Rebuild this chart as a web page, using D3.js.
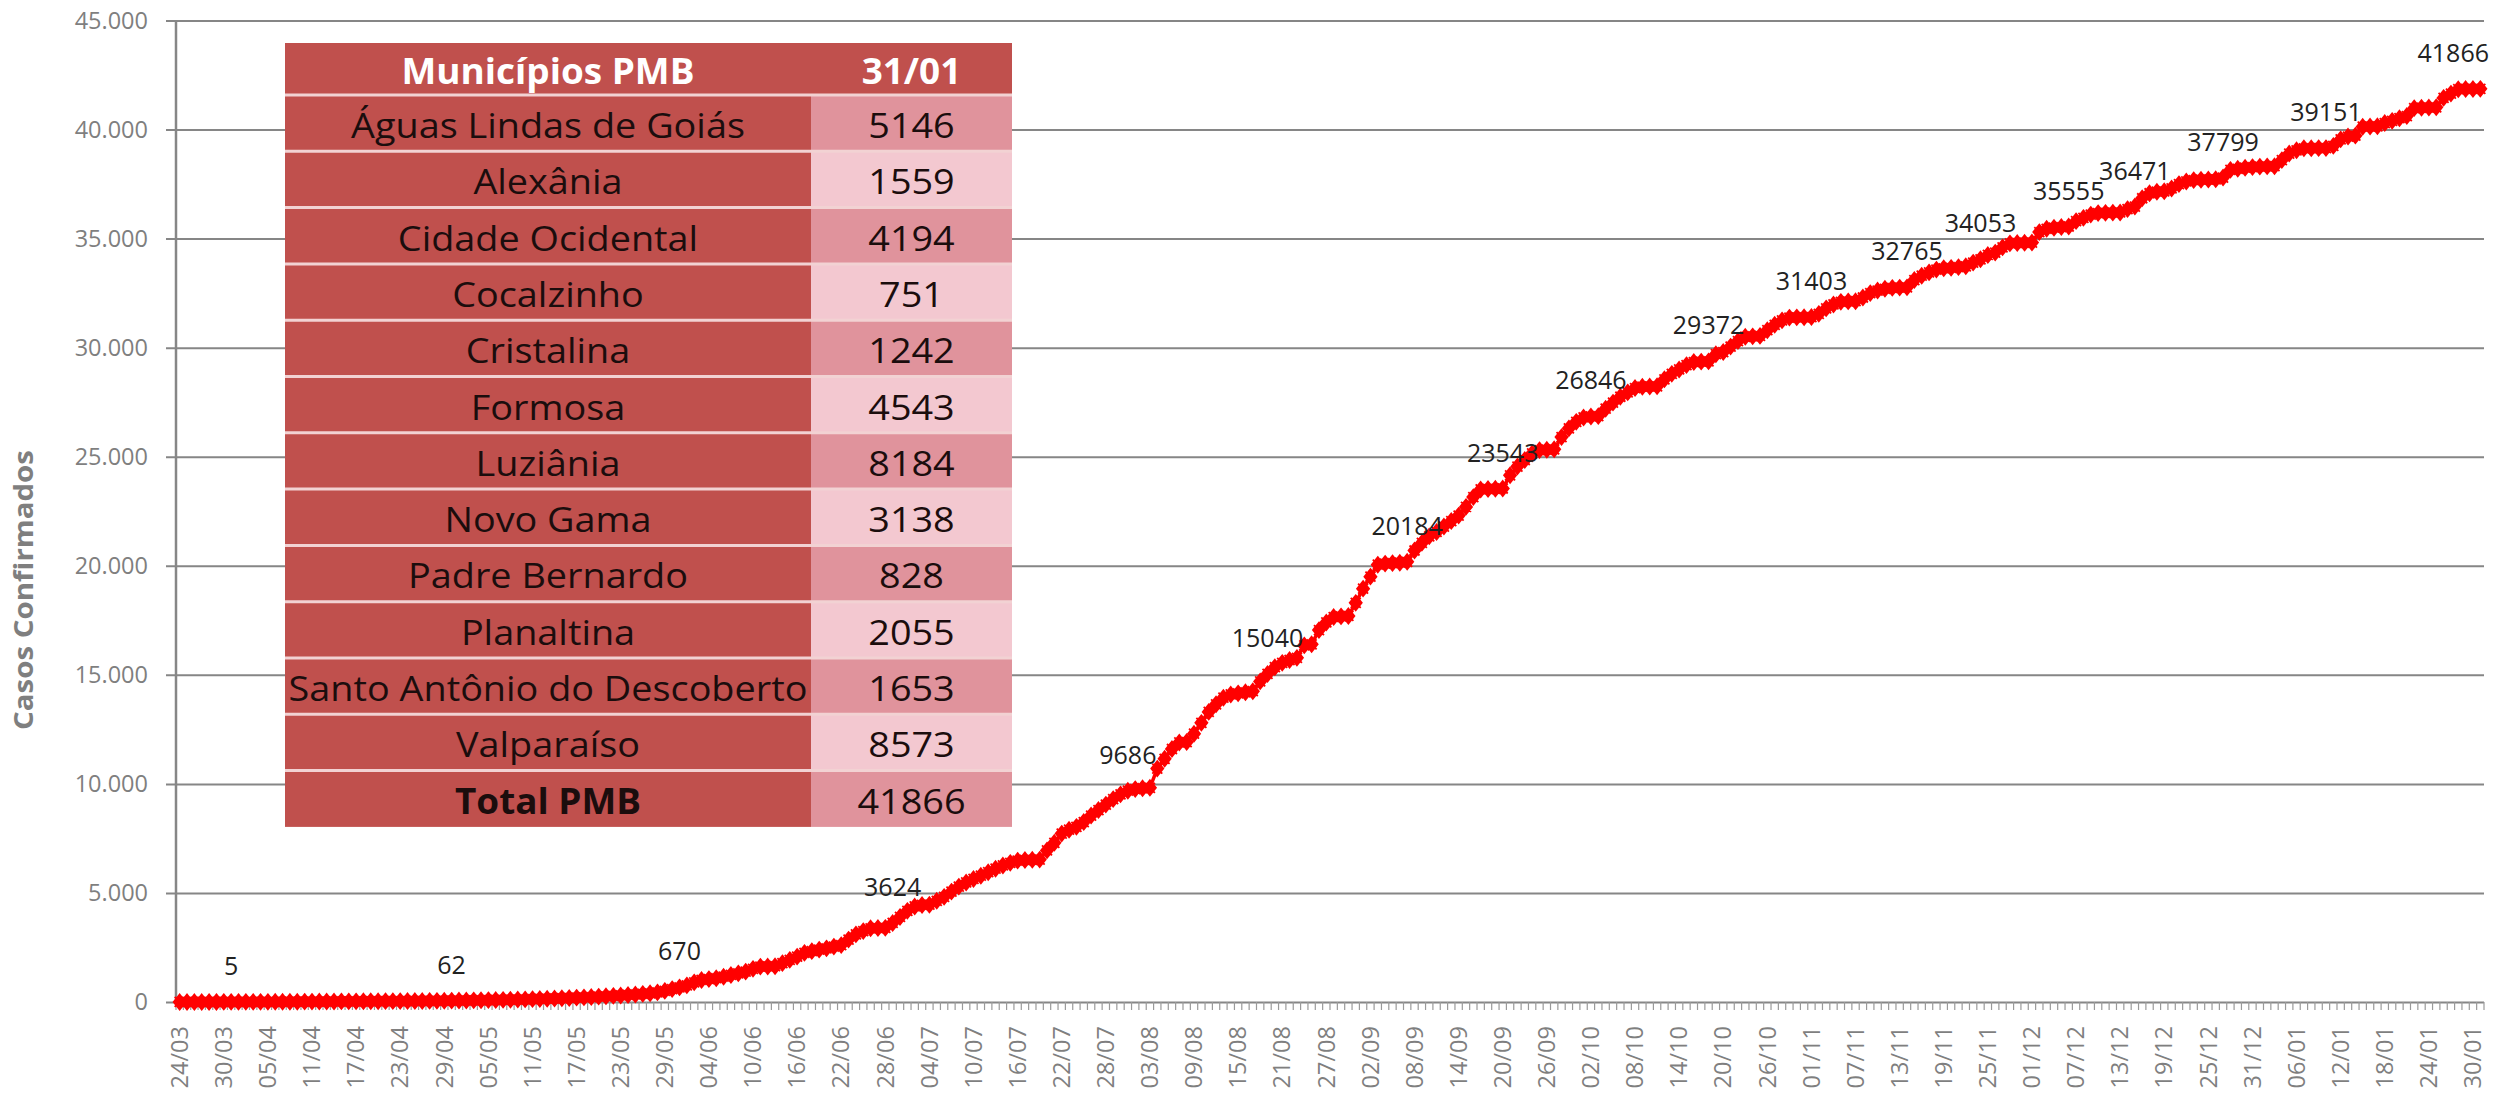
<!DOCTYPE html>
<html>
<head>
<meta charset="utf-8">
<script src="https://cdn.jsdelivr.net/npm/d3@7"></script>
<style>
  body { margin: 0; background: #fff; }
  text { font-family: 'Open Sans', sans-serif; }
</style>
</head>
<body>
<svg id="chart"></svg>
<script>
// daily cumulative confirmed cases, 24/03/2020 .. 31/01/2021 (314 days)
var casos = [
  1, 1, 2, 2, 3, 3, 4, 5, 5, 6,
  7, 8, 8, 9, 10, 12, 14, 16, 18, 20,
  22, 24, 26, 28, 30, 32, 34, 36, 38, 40,
  42, 44, 46, 48, 51, 54, 58, 62, 66, 70,
  75, 80, 86, 92, 98, 105, 112, 120, 130, 140,
  150, 160, 172, 185, 198, 212, 228, 245, 262, 280,
  300, 322, 345, 370, 400, 440, 510, 590, 670, 760,
  900, 1010, 1050, 1090, 1160, 1240, 1310, 1390, 1520, 1620,
  1630, 1640, 1780, 1930, 2080, 2250, 2330, 2400, 2460, 2540,
  2610, 2860, 3100, 3250, 3380, 3390, 3400, 3624, 3900, 4180,
  4380, 4450, 4460, 4640, 4820, 5060, 5290, 5480, 5640, 5790,
  5950, 6110, 6260, 6380, 6480, 6510, 6520, 6530, 6950, 7300,
  7720, 7900, 8030, 8250, 8550, 8800, 9050, 9300, 9520, 9686,
  9760, 9800, 9820, 10700, 11150, 11600, 11900, 11920, 12300, 12800,
  13300, 13650, 13950, 14100, 14150, 14200, 14250, 14700, 15040, 15350,
  15550, 15680, 15780, 16350, 16400, 17050, 17400, 17650, 17680, 17700,
  18300, 18950, 19500, 20050, 20100, 20120, 20140, 20184, 20700, 21050,
  21350, 21550, 21800, 22050, 22300, 22700, 23150, 23500, 23520, 23530,
  23543, 24150, 24550, 24850, 25150, 25300, 25320, 25340, 25900, 26300,
  26600, 26800, 26846, 26860, 27200, 27480, 27750, 27950, 28150, 28210,
  28220, 28230, 28550, 28800, 29000, 29200, 29340, 29360, 29372, 29700,
  29800, 30050, 30300, 30500, 30520, 30540, 30800, 31050, 31250, 31380,
  31390, 31395, 31403, 31550, 31800, 31980, 32100, 32120, 32130, 32300,
  32500, 32620, 32700, 32740, 32755, 32765, 33100, 33300, 33450, 33580,
  33640, 33660, 33690, 33730, 33900, 34053, 34250, 34360, 34600, 34780,
  34800, 34810, 34820, 35300, 35450, 35500, 35530, 35555, 35800, 35950,
  36100, 36170, 36180, 36190, 36200, 36350, 36471, 36850, 37080, 37150,
  37170, 37300, 37500, 37620, 37680, 37700, 37710, 37720, 37799, 38150,
  38200, 38250, 38280, 38300, 38310, 38320, 38600, 38900, 39050, 39140,
  39145, 39148, 39151, 39250, 39550, 39680, 39720, 40130, 40140, 40150,
  40300, 40400, 40520, 40620, 40980, 41000, 41010, 41020, 41450, 41650,
  41850, 41860, 41862, 41866
]

// points that carry a value label
var rotulos = [7, 37, 68, 97, 129, 148, 167, 180, 192, 208, 222, 235, 245, 257, 266, 278, 292, 313]

var municipios = ['Águas Lindas de Goiás', 'Alexânia', 'Cidade Ocidental', 'Cocalzinho', 'Cristalina',
  'Formosa', 'Luziânia', 'Novo Gama', 'Padre Bernardo', 'Planaltina',
  'Santo Antônio do Descoberto', 'Valparaíso', 'Total PMB']
var casosMunicipio = [5146, 1559, 4194, 751, 1242, 4543, 8184, 3138, 828, 2055, 1653, 8573, 41866]

var yTicks = [0, 5000, 10000, 15000, 20000, 25000, 30000, 35000, 40000, 45000]

var dias = d3.utcDay.range(new Date(Date.UTC(2020, 2, 24)), new Date(Date.UTC(2021, 1, 1)))
var fmtDia = d3.utcFormat('%d/%m')
var categorias = dias.map(fmtDia)
var xTickLabels = categorias.filter(function (d, i) { return i % 6 === 0 })

var W = 2494, H = 1097
var margin = {top: 20.5, right: 10, bottom: 95, left: 176}
var plotRight = 2484
var grey = '#868686'

var svg = d3.select('#chart').attr('width', W).attr('height', H)

var x = d3.scaleBand().domain(categorias).range([margin.left, plotRight]).padding(0)
var y = d3.scaleLinear().domain([0, 45000]).range([1002, margin.top])
var bw = x.bandwidth()

var br = d3.formatLocale({decimal: ',', thousands: '.', grouping: [3], currency: ['R$', '']})
var fmtY = br.format(',')

// y grid + labels
var yAxis = svg.append('g')
  .attr('transform', 'translate(' + margin.left + ',0)')
  .call(d3.axisLeft(y).tickValues(yTicks).tickFormat(fmtY).tickSize(10).tickPadding(18))
yAxis.select('.domain').remove()
yAxis.selectAll('.tick line')
  .attr('x1', -10).attr('x2', plotRight - margin.left)
  .attr('stroke', grey).attr('stroke-width', 2)
yAxis.selectAll('.tick text')
  .attr('fill', '#7f7f7f').style('font-size', '23.5px').style('font-family', "'Open Sans', sans-serif")

// vertical axis line
svg.append('line')
  .attr('x1', margin.left).attr('x2', margin.left)
  .attr('y1', y(45000)).attr('y2', y(0))
  .attr('stroke', grey).attr('stroke-width', 2.5)

// category tick marks
svg.append('g').selectAll('line')
  .data(categorias.concat(['fim']))
  .enter().append('line')
  .attr('x1', function (d) { return d === 'fim' ? plotRight : x(d) })
  .attr('x2', function (d) { return d === 'fim' ? plotRight : x(d) })
  .attr('y1', y(0)).attr('y2', y(0) + 8)
  .attr('stroke', '#9a9a9a').attr('stroke-width', 1.2)

// x labels, rotated
svg.append('g').selectAll('text')
  .data(xTickLabels)
  .enter().append('text')
  .attr('transform', function (d) { return 'translate(' + (x(d) + bw / 2) + ',1026) rotate(-90)' })
  .attr('text-anchor', 'end')
  .attr('dy', '0.35em')
  .attr('fill', '#7f7f7f')
  .style('font-size', '23.5px')
  .text(function (d) { return d })

// y title
svg.append('text')
  .attr('transform', 'translate(33,590) rotate(-90)')
  .attr('text-anchor', 'middle')
  .attr('fill', '#7f7f7f')
  .style('font-size', '27px')
  .style('font-weight', 'bold')
  .attr('textLength', 280)
  .attr('lengthAdjust', 'spacingAndGlyphs')
  .text('Casos Confirmados')

// series
var line = d3.line()
  .x(function (d, i) { return x(categorias[i]) + bw / 2 })
  .y(function (d) { return y(d) })

svg.append('path')
  .datum(casos)
  .attr('d', line)
  .attr('fill', 'none')
  .attr('stroke', '#ff0000')
  .attr('stroke-width', 3.5)

svg.append('g').selectAll('path')
  .data(casos)
  .enter().append('path')
  .attr('transform', function (d, i) { return 'translate(' + (x(categorias[i]) + bw / 2) + ',' + y(d) + ')' })
  .attr('d', 'M0,-7.5L6,0L0,7.5L-6,0Z M-5,-5L5,5 M-5,5L5,-5')
  .attr('fill', '#ff0000')
  .attr('stroke', '#ff0000')
  .attr('stroke-width', 1.8)

// value labels
var lbl = svg.append('g').selectAll('text')
  .data(rotulos)
  .enter().append('text')
  .attr('x', function (i) { return x(categorias[i]) + bw / 2 })
  .attr('y', function (i) { return y(casos[i]) - 27 })
  .attr('text-anchor', 'middle')
  .attr('fill', '#222')
  .style('font-size', '25px')
  .text(function (i) { return casos[i] })
lbl.each(function () {
  var w = this.getComputedTextLength()
  var cx = +this.getAttribute('x')
  if (cx + w / 2 > W - 5) this.setAttribute('x', W - 5 - w / 2)
})

// table overlay
var tab = {x0: 285, x1: 811, x2: 1012, top: 43, headH: 52, rowH: 56.3}
var corEscura = '#c0504d'
var corRosa = ['#e0939c', '#f3c8d0']

var tg = svg.append('g')
tg.append('rect')
  .attr('x', tab.x0).attr('y', tab.top)
  .attr('width', tab.x2 - tab.x0).attr('height', tab.headH)
  .attr('fill', corEscura)

var rows = tg.selectAll('.row')
  .data(municipios)
  .enter().append('g')
  .attr('class', 'row')
  .attr('transform', function (d, i) { return 'translate(0,' + (tab.top + tab.headH + i * tab.rowH) + ')' })

rows.append('rect')
  .attr('x', tab.x0).attr('width', tab.x1 - tab.x0).attr('height', tab.rowH)
  .attr('fill', corEscura)
rows.append('rect')
  .attr('x', tab.x1).attr('width', tab.x2 - tab.x1).attr('height', tab.rowH)
  .attr('fill', function (d, i) { return corRosa[i % 2] })

// row separators
tg.selectAll('.sep')
  .data(municipios)
  .enter().append('line')
  .attr('x1', tab.x0).attr('x2', tab.x2)
  .attr('y1', function (d, i) { return tab.top + tab.headH + i * tab.rowH })
  .attr('y2', function (d, i) { return tab.top + tab.headH + i * tab.rowH })
  .attr('stroke', '#f2d2d3').attr('stroke-width', 3)

function cellText (g, txt, cx, cy, bold, fill) {
  return g.append('text')
    .attr('transform', 'translate(' + cx + ',' + cy + ')')
    .attr('text-anchor', 'middle')
    .attr('fill', fill)
    .style('font-size', '35px')
    .style('font-weight', bold ? 'bold' : 'normal')
    .text(txt)
}

var textos = []
var midL = (tab.x0 + tab.x1) / 2, midR = (tab.x1 + tab.x2) / 2
textos.push(cellText(tg, 'Municípios PMB', midL, tab.top + 41, true, '#fff'))
textos.push(cellText(tg, '31/01', midR, tab.top + 41, true, '#fff'))
municipios.forEach(function (m, i) {
  var base = tab.top + tab.headH + i * tab.rowH + 43
  textos.push(cellText(tg, m, midL, base, m === 'Total PMB', '#1b0d0d'))
  textos.push(cellText(tg, casosMunicipio[i], midR, base, false, '#1b0d0d'))
})

// Calibri is narrower/taller than what is installed: stretch horizontally to match widths
var sxReg = 519 / textos[2 * 11].node().getComputedTextLength()
var sxBold = 293 / textos[0].node().getComputedTextLength()
textos.forEach(function (t) {
  var s = t.style('font-weight') === 'bold' || t.style('font-weight') === '700' ? sxBold : sxReg
  t.attr('transform', t.attr('transform') + ' scale(' + s + ',1)')
})
</script>
</body>
</html>
